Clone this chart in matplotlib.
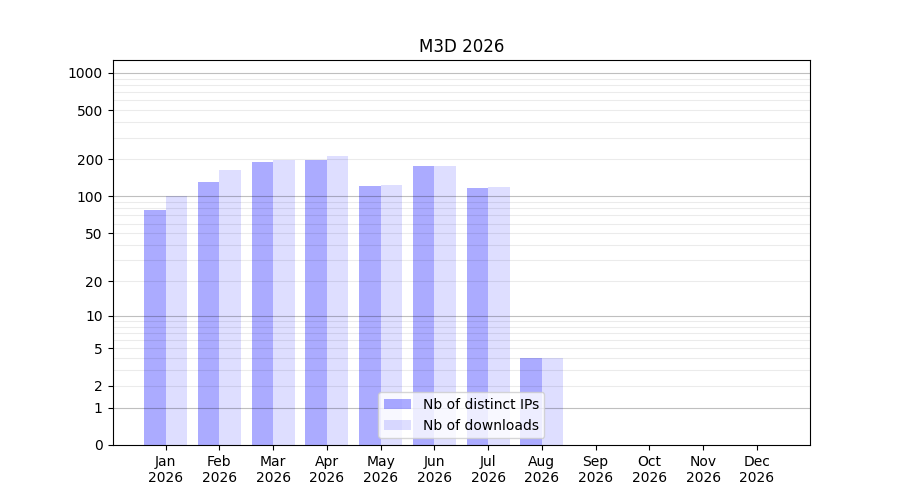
import matplotlib
matplotlib.use("Agg")
import matplotlib.pyplot as plt
import numpy as np

months = ['Jan', 'Feb', 'Mar', 'Apr', 'May', 'Jun', 'Jul', 'Aug', 'Sep', 'Oct', 'Nov', 'Dec']
year = 2026
distinct_ips = [78, 130, 190, 197, 121, 176, 116, 4, 0, 0, 0, 0]
downloads = [101, 165, 199, 212, 123, 176, 119, 4, 0, 0, 0, 0]


def fwd(y):
    return np.log10(1 + np.clip(y, 0, None))


def inv(y):
    return 10 ** y - 1


fig, ax = plt.subplots(figsize=(9, 5), dpi=100)
x = np.arange(len(months))
w = 0.4

ax.bar(x - w / 2, distinct_ips, w, color='blue', alpha=0.33, label='Nb of distinct IPs')
ax.bar(x + w / 2, downloads, w, color='blue', alpha=0.13, label='Nb of downloads')

ax.set_yscale('function', functions=(fwd, inv))
ax.set_ylim(0, 1270)

major = [0, 1, 2, 5, 10, 20, 50, 100, 200, 500, 1000]
ax.set_yticks(major)
ax.set_yticklabels([str(v) for v in major])

# grid lines: darker on decades, faint on the rest (semi transparent so they show through bars)
minor = [m * 10 ** d for d in range(0, 3) for m in range(2, 10)]
for v in minor:
    ax.axhline(v, color='black', alpha=0.08, linewidth=0.8, zorder=1.5)
for v in [1, 10, 100, 1000]:
    ax.axhline(v, color='black', alpha=0.25, linewidth=0.8, zorder=1.5)

ax.set_xticks(x)
ax.set_xticklabels([f'{m}\n{year}' for m in months])
ax.set_title(f'M3D {year}')
ax.legend(loc='lower center')

fig.savefig('out.png')
